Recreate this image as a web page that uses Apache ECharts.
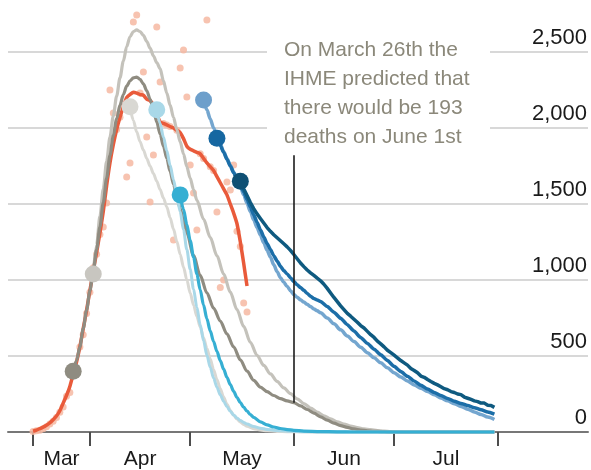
<!DOCTYPE html>
<html>
<head>
<meta charset="utf-8">
<script src="https://cdn.jsdelivr.net/npm/echarts@6/dist/echarts.min.js"></script>
<style>
  html, body { margin: 0; padding: 0; background: #ffffff; }
  #chart { width: 591px; height: 470px; }
</style>
</head>
<body>
<div id="chart"></div>
<script>
// Days are counted from March 1st (day 0).
function range(a, b, step) {
  const out = [];
  for (let d = a; d <= b; d += step) out.push(d);
  return out;
}

// Month boundaries on the x axis and the month names centred between them
const monthTickDays = [14, 31, 61, 92, 122, 153];
const monthNames = ['Mar', 'Apr', 'May', 'Jun', 'Jul'];
const monthLabelDays = [22.5, 46, 76.5, 107, 137.5];

const yTicks = [0, 500, 1000, 1500, 2000, 2500];

// Reported daily deaths
const dailyDays = range(14, 78, 1);
const dailyDeaths = [3, 9, 12, 22, 35, 52, 70, 95, 130, 165, 235, 260, 410, 420, 560, 640, 780, 920,
  1080, 1170, 1300, 1349, 1507, 2250, 2099, 1990, 2070, 2140, 1678, 1770, 2697, 2743, 2230, 2368,
  1941, 1513, 1822, 2664, 2303, 2030, 2020, 2010, 1263, 1985, 2395, 2513, 2204, 1757, 1572, 1329,
  1830, 1800, 2711, 1745, 1720, 1447, 950, 1000, 1645, 1592, 1757, 1320, 1220, 849, 789];

// Rolling average of reported deaths
const actualDays = range(14, 78, 1);
const actualDeaths = [5, 12, 22, 32, 45, 60, 80, 105, 140, 190, 240, 300, 380, 460, 560, 680, 800, 930,
  1060, 1180, 1310, 1450, 1620, 1770, 1890, 1990, 2070, 2140, 2200, 2220, 2235, 2230, 2220, 2215,
  2190, 2180, 2150, 2090, 2040, 2030, 2020, 2010, 2000, 1985, 1970, 1930, 1880, 1860, 1850, 1840,
  1830, 1800, 1770, 1745, 1720, 1680, 1640, 1600, 1560, 1500, 1440, 1370, 1250, 1110, 960];

// IHME projections, each beginning on the day it was published
const fcMar26Days = [...range(26, 60, 1), ...range(62, 122, 2), 152];
const fcMar26Deaths = [400, 470, 560, 680, 800, 930, 1060, 1200, 1350, 1510, 1670, 1820, 1950, 2060,
  2150, 2220, 2275, 2310, 2330, 2335, 2320, 2290, 2245, 2190, 2120, 2040, 1960, 1880, 1800, 1715,
  1630, 1550, 1470, 1390, 1310,
  1160, 1030, 915, 815, 730, 645, 560, 475, 400, 340, 295, 265, 240, 220, 205, 193, 172, 148, 124,
  100, 78, 58, 42, 30, 20, 13, 8, 5, 3, 1, 0, 0];

const fcApr1Days = [...range(32, 63, 1), ...range(65, 125, 2), 152];
const fcApr1Deaths = [1040, 1230, 1420, 1600, 1780, 1940, 2080, 2210, 2330, 2440, 2535, 2600, 2635,
  2645, 2635, 2610, 2570, 2525, 2475, 2430, 2390, 2310, 2230, 2150, 2070, 1990, 1910, 1830, 1745,
  1670, 1595, 1525,
  1400, 1280, 1160, 1040, 920, 805, 695, 590, 505, 438, 382, 333, 290, 252, 218, 187, 158, 131, 107,
  86, 67, 52, 39, 29, 21, 15, 10, 6, 3, 1, 0, 0];

const fcApr13Days = [...range(43, 78, 1), 80, 82, 84, 87, 90, 95, 100, 152];
const fcApr13Deaths = [2140, 2050, 1975, 1910, 1855, 1800, 1750, 1700, 1650, 1595, 1540, 1480, 1410,
  1335, 1255, 1170, 1085, 1000, 915, 835, 760, 690, 620, 550, 480, 410, 345, 285, 230, 182, 142, 110,
  85, 65, 50, 38, 22, 13, 8, 4, 2, 1, 0, 0];

const fcApr21Days = [...range(51, 78, 1), 80, 82, 84, 86, 88, 91, 95, 100, 105, 152];
const fcApr21Deaths = [2120, 2030, 1940, 1850, 1755, 1660, 1560, 1450, 1330, 1200, 1070, 940, 820,
  705, 600, 505, 425, 355, 295, 245, 202, 166, 136, 112, 92, 76, 63, 52,
  36, 25, 17, 12, 8, 5, 2, 1, 0, 0];

const fcApr28Days = [...range(58, 80, 1), 82, 84, 86, 88, 90, 92, 95, 100, 105, 110, 152];
const fcApr28Deaths = [1560, 1465, 1365, 1260, 1150, 1040, 935, 835, 745, 665, 595, 530, 470, 413,
  360, 312, 268, 228, 193, 163, 137, 115, 96,
  67, 47, 33, 23, 16, 11, 6, 3, 1, 0, 0];

const fcMay5Days = [...range(65, 100, 1), ...range(102, 152, 2)];
const fcMay5Deaths = [2184, 2120, 2060, 2000, 1945, 1895, 1845, 1800, 1755, 1710, 1665, 1615, 1560,
  1505, 1450, 1395, 1345, 1295, 1245, 1195, 1150, 1100, 1055, 1015, 985, 958, 930, 905, 887, 870, 855,
  840, 825, 810, 797, 785,
  750, 712, 672, 632, 595, 558, 522, 488, 455, 422, 390, 362, 335, 310, 288, 266, 245, 224, 205, 186,
  168, 150, 132, 115, 98, 82];

const fcMay8Days = [...range(69, 100, 1), ...range(102, 152, 2)];
const fcMay8Deaths = [1932, 1885, 1840, 1795, 1750, 1705, 1665, 1625, 1580, 1530, 1480, 1430, 1380,
  1330, 1285, 1240, 1200, 1160, 1125, 1090, 1062, 1040, 1015, 990, 968, 950, 932, 912, 893, 878, 868,
  858,
  825, 788, 748, 706, 664, 622, 583, 545, 508, 470, 432, 398, 366, 336, 308, 283, 260, 240, 221, 203,
  188, 174, 160, 146, 132, 118];

const fcMay16Days = range(76, 152, 1);
const fcMay16Deaths = [1650, 1600, 1555, 1510, 1470, 1435, 1405, 1375, 1345, 1320,
  1298, 1278, 1258, 1238, 1218, 1195, 1168, 1140, 1112, 1088,
  1066, 1047, 1030, 1012, 995, 972, 945, 915, 885, 858,
  830, 805, 780, 762, 742, 722, 700, 684, 662, 640,
  622, 598, 580, 560, 538, 522, 505, 488, 470, 455,
  440, 418, 405, 390, 368, 360, 345, 332, 320, 310,
  298, 285, 278, 266, 260, 250, 246, 230, 222, 214,
  205, 200, 190, 190, 176, 175, 162];

const noteDay = 92;
const noteTopValue = 1820;
const noteValue = fcMar26Deaths[fcMar26Days.indexOf(noteDay)];
const noteLines = ['On March 26th the', 'IHME predicted that', 'there would be ' + noteValue, 'deaths on June 1st'];

const FONT = '"Liberation Sans", Arial, sans-serif';

function pairs(days, vals) {
  return days.map((d, i) => [d, vals[i]]);
}

function forecast(name, days, vals, lineColor, dotColor, width, extra) {
  return Object.assign({
    name: name,
    type: 'line',
    data: pairs(days, vals),
    showSymbol: true,
    symbol: (v, p) => (p.dataIndex === 0 ? 'circle' : 'none'),
    symbolSize: 17,
    itemStyle: { color: dotColor },
    lineStyle: { color: lineColor, width: width },
    smooth: 0.3,
    smoothMonotone: 'x',
    clip: false,
    silent: true
  }, extra || {});
}

const chart = echarts.init(document.getElementById('chart'), null, { renderer: 'canvas' });

chart.setOption({
  animation: false,
  backgroundColor: '#ffffff',
  grid: { left: 8, right: 3, top: 52, bottom: 38, containLabel: false },
  xAxis: {
    type: 'value',
    min: 6.5,
    max: 180,
    axisLine: { show: true, onZero: false, lineStyle: { color: '#777777', width: 2 } },
    splitLine: { show: false },
    axisTick: {
      show: true,
      customValues: monthTickDays,
      length: 14,
      lineStyle: { color: '#4d4d4d', width: 2 }
    },
    axisLabel: {
      customValues: monthLabelDays,
      formatter: v => monthNames[monthLabelDays.indexOf(v)] || '',
      color: '#1a1a1a',
      fontFamily: FONT,
      fontSize: 21,
      margin: 17
    }
  },
  yAxis: {
    type: 'value',
    position: 'right',
    min: yTicks[0],
    max: yTicks[yTicks.length - 1],
    interval: 500,
    axisLine: { show: false },
    axisTick: { show: false },
    splitLine: { lineStyle: { color: '#d8d8d8', width: 2 } },
    axisLabel: {
      inside: true,
      margin: 1,
      verticalAlign: 'bottom',
      padding: [0, 0, 3, 0],
      formatter: v => v.toLocaleString('en-US'),
      color: '#1a1a1a',
      fontFamily: FONT,
      fontSize: 22
    }
  },
  graphic: [
    {
      type: 'rect',
      z: 50,
      shape: { x: 267, y: 34, width: 223, height: 112 },
      style: { fill: '#ffffff' },
      silent: true
    },
    {
      type: 'text',
      z: 51,
      x: 284,
      y: 36,
      style: {
        text: noteLines.join('\n'),
        fill: '#8b887a',
        font: '21px ' + FONT,
        lineHeight: 29
      },
      silent: true
    }
  ],
  series: [
    {
      name: 'Daily deaths',
      type: 'scatter',
      data: pairs(dailyDays, dailyDeaths),
      symbolSize: 7,
      itemStyle: { color: '#f6b8a2', opacity: 0.85 },
      clip: false,
      silent: true
    },
    {
      name: 'Reported',
      type: 'line',
      data: pairs(actualDays, actualDeaths),
      showSymbol: false,
      lineStyle: { color: '#e95a3a', width: 3.5 },
      smooth: 0.2,
      clip: false,
      silent: true
    },
    forecast('Apr 13th', fcApr13Days, fcApr13Deaths, '#d9d8d3', '#d9d8d3', 3),
    forecast('Apr 1st', fcApr1Days, fcApr1Deaths, '#c4c2bb', '#c8c6c0', 3.2),
    forecast('Mar 26th', fcMar26Days, fcMar26Deaths, '#8f8c81', '#8f8c81', 3.2, {
      markLine: {
        silent: true,
        symbol: ['circle', 'none'],
        symbolSize: [6, 0],
        label: { show: false },
        lineStyle: { color: '#1c1c1c', width: 1.6, type: 'solid' },
        itemStyle: { color: '#1c1c1c' },
        emphasis: { disabled: true },
        data: [[{ coord: [noteDay, noteValue] }, { coord: [noteDay, noteTopValue] }]]
      }
    }),
    forecast('Apr 21st', fcApr21Days, fcApr21Deaths, '#a9d8e8', '#a9d8e8', 3),
    forecast('Apr 28th', fcApr28Days, fcApr28Deaths, '#36afd3', '#36afd3', 3.2),
    forecast('May 5th', fcMay5Days, fcMay5Deaths, '#74a6cf', '#6d9fcb', 3.5),
    forecast('May 8th', fcMay8Days, fcMay8Deaths, '#1c6ea8', '#1667a1', 3.5, { smooth: 0.2 }),
    forecast('May 16th', fcMay16Days, fcMay16Deaths, '#0f5a80', '#0f5074', 3.5, { smooth: false })
  ]
});
</script>
</body>
</html>
